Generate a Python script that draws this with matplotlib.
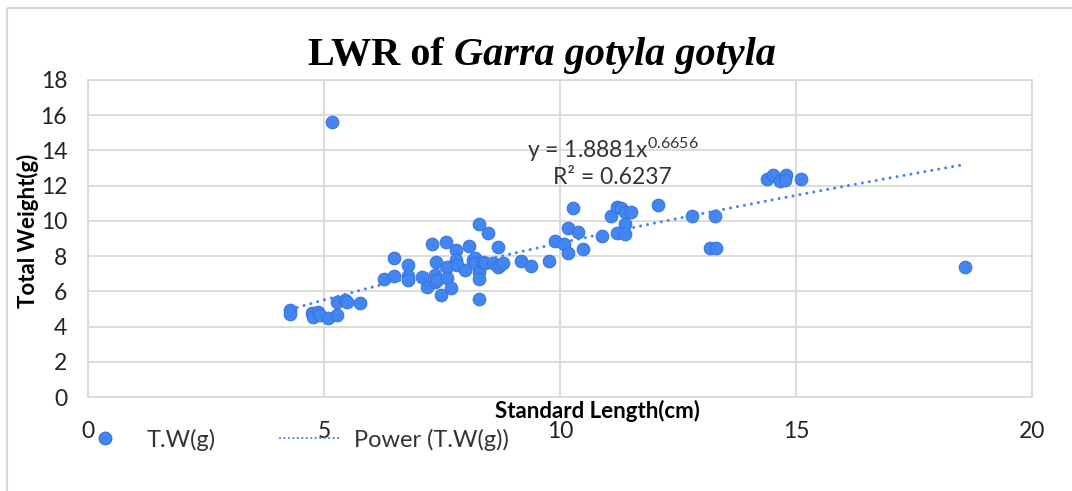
import numpy as np
import matplotlib
matplotlib.use("Agg")
import matplotlib.pyplot as plt
from matplotlib.lines import Line2D
from matplotlib.patches import Rectangle

# standard length (cm) and total weight (g)
std_length = [4.29, 4.29, 4.74, 4.77, 4.88, 4.92, 5.09, 5.27, 5.27, 5.44, 5.49, 5.76,
              5.17,
              6.27, 6.49, 6.49, 6.77, 6.77, 6.77, 7.07, 7.19, 7.29, 7.37, 7.35, 7.36,
              7.39, 7.48, 7.58, 7.60, 7.60, 7.69, 7.79, 7.79, 7.81, 7.99, 8.08, 8.16,
              8.20, 8.20, 8.29, 8.48, 8.68, 8.29, 8.29, 8.29, 8.37, 8.41, 8.59, 8.69,
              8.73, 8.80, 9.17, 9.39, 9.77, 9.89,
              10.18, 10.39, 10.09, 10.18, 10.49, 10.28, 10.88, 11.08, 11.20, 11.29,
              11.38, 11.50, 11.38, 11.20, 11.38, 12.07, 12.79, 13.28, 13.18, 13.30,
              14.39, 14.52, 14.67, 14.79, 14.77, 15.10, 18.57]
total_weight = [4.94, 4.70, 4.75, 4.56, 4.85, 4.66, 4.47, 4.66, 5.41, 5.51, 5.40, 5.36,
                15.6,
                6.69, 6.88, 7.88, 7.50, 6.88, 6.65, 6.80, 6.27, 8.68, 7.69, 6.93, 6.52,
                6.65, 5.80, 8.79, 7.40, 6.74, 6.20, 8.35, 7.78, 7.50, 7.22, 8.60, 7.78,
                7.88, 7.60, 9.81, 9.30, 8.54, 7.12, 6.70, 5.59, 7.69, 7.60, 7.60, 7.40,
                7.50, 7.60, 7.73, 7.46, 7.74, 8.88,
                9.58, 9.35, 8.69, 8.16, 8.39, 10.76, 9.17, 10.28, 10.78, 10.72,
                10.53, 10.53, 9.83, 9.30, 9.26, 10.91, 10.28, 10.28, 8.45, 8.45,
                12.39, 12.58, 12.29, 12.58, 12.33, 12.39, 7.40]

# power trendline as printed on the chart
coef_a = 1.8881
coef_b = 0.6656
eq_text = "y = 1.8881x$^{0.6656}$"
r2_text = "R² = 0.6237"

x_ticks = [0, 5, 10, 15, 20]
y_ticks = [0, 2, 4, 6, 8, 10, 12, 14, 16, 18]

W, H = 1072, 491
blue = "#4285F4"
grid_col = "#D9D9D9"
font = "Lato"

plt.rcParams["font.family"] = [font, "DejaVu Sans"]
plt.rcParams["mathtext.fontset"] = "custom"
plt.rcParams["mathtext.rm"] = font
plt.rcParams["mathtext.it"] = font


def px(x, y):
    return x / W, 1 - y / H


fig = plt.figure(figsize=(W / 100, H / 100), dpi=100)
fig.patches.append(Rectangle(px(7, 8), (W + 20) / W, -(H + 20) / H,
                             transform=fig.transFigure, fill=False,
                             edgecolor=grid_col, linewidth=1.5))

l, t = px(88, 80)
r, b = px(1032, 397)
ax = fig.add_axes([l, b, r - l, t - b])

ax.scatter(std_length, total_weight, s=82, color=blue, edgecolors="#3A76D8",
           linewidths=0.8, zorder=3)

xs = np.linspace(min(std_length), max(std_length), 200)
ax.plot(xs, coef_a * xs ** coef_b, color=blue, linewidth=2.2,
        linestyle=(0, (0.01, 2.3)), dash_capstyle="round", zorder=4)

ax.set_xlim(0, 20)
ax.set_ylim(0, 18)
ax.set_xticks(x_ticks)
ax.set_yticks(y_ticks)
ax.grid(True, color=grid_col, linewidth=1.3)
ax.set_axisbelow(True)
for s in ax.spines.values():
    s.set_color(grid_col)
    s.set_linewidth(1.3)
ax.tick_params(length=0, labelsize=16.5)
ax.tick_params(axis="x", pad=17)
ax.tick_params(axis="y", pad=15)
for lab in ax.get_xticklabels() + ax.get_yticklabels():
    lab.set_color("#222222")

ax.text(11.12, 14.05, eq_text, ha="center", va="center", fontsize=16.5, color="#333333")
ax.text(11.1, 12.45, r2_text, ha="center", va="center", fontsize=16.5, color="#333333")

# title: bold part + bold italic part
tfont = "Liberation Serif"
t1 = fig.text(0, 0, "LWR of ", fontsize=29, fontweight="bold", family=tfont)
t2 = fig.text(0, 0, "Garra gotyla gotyla", fontsize=29, fontweight="bold",
              fontstyle="italic", family=tfont)
fig.canvas.draw()
rend = fig.canvas.get_renderer()
w1 = t1.get_window_extent(rend).width
w2 = t2.get_window_extent(rend).width
x0 = 542 - (w1 + w2) / 2
t1.set_position(px(x0, 55))
t1.set_va("center")
t2.set_position(px(x0 + w1, 55))
t2.set_va("center")

# axis labels
fig.text(*px(597, 411), "Standard Length(cm)", ha="center", va="center",
         fontsize=16, fontweight="bold")
fig.text(*px(28, 231), "Total Weight(g)", ha="center", va="center",
         fontsize=16, fontweight="bold", rotation=90)

# legend
fig.add_artist(Line2D([105 / W], [1 - 438 / H], marker="o", markersize=9,
                      color=blue, markeredgecolor="#3A76D8", transform=fig.transFigure))
fig.text(*px(147, 440), "T.W(g)", ha="left", va="center", fontsize=17, color="#333333")
fig.add_artist(Line2D([280 / W, 342 / W], [1 - 438 / H] * 2, color=blue,
                      linewidth=1.6, linestyle=(0, (0.01, 2.0)),
                      dash_capstyle="round", transform=fig.transFigure))
fig.text(*px(354, 440), "Power (T.W(g))", ha="left", va="center", fontsize=17,
         color="#333333")

fig.savefig("out.png", dpi=100)
